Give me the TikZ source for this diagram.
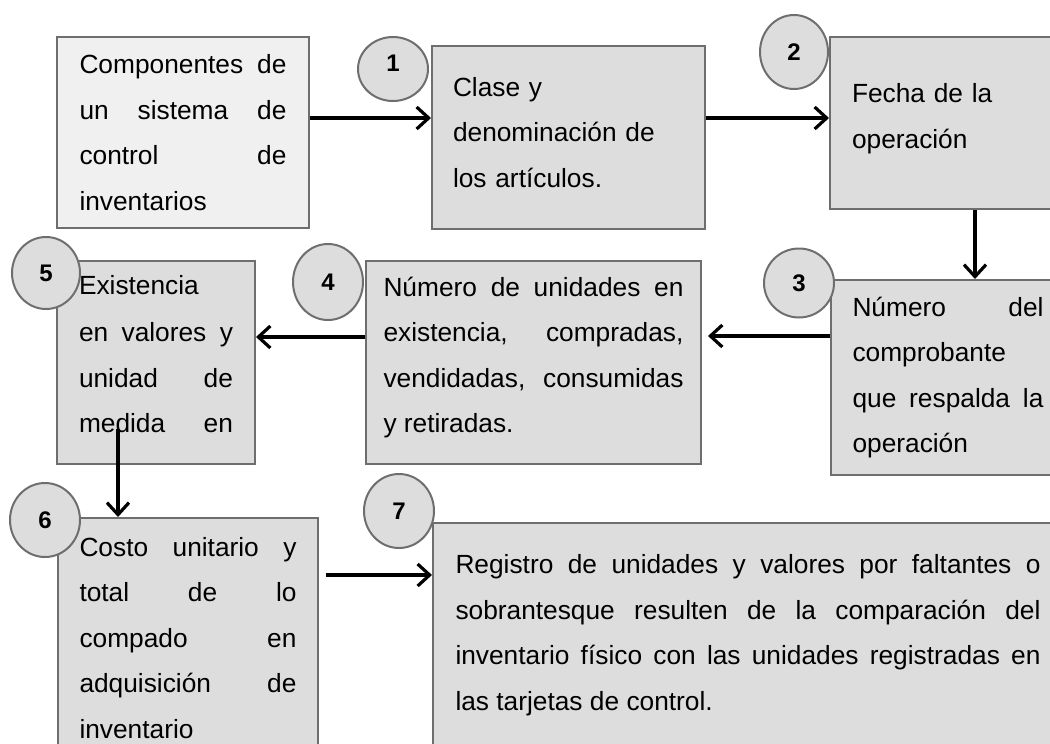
\documentclass[tikz,border=0pt]{standalone}
\usepackage{fontspec}
\setmainfont{Liberation Sans}
\usetikzlibrary{shapes.geometric}
\usetikzlibrary{arrows.meta}
\definecolor{borde}{HTML}{6E6E6E}
\definecolor{relleno}{HTML}{DDDDDD}
\definecolor{claro}{HTML}{F0F0F0}

\begin{document}
\begin{tikzpicture}[x=0.5pt,y=-0.5pt,
	caja/.style={draw=borde, line width=1pt, fill=relleno, anchor=north west, inner ysep=0pt, align=justify, font=\fontsize{13.15}{22.75}\selectfont},
	numero/.style={ellipse, draw=borde, line width=1pt, fill=relleno, inner sep=0pt, minimum width=35pt, minimum height=37pt, font=\fontsize{12}{14}\selectfont\bfseries},
	flecha/.style={line width=1.6pt, -{Straight Barb[length=6pt,width=11pt]}}]
		\path[use as bounding box, clip] (0,0) rectangle (1050,744);
		% First Row
		\node [caja, fill=claro, minimum width=126pt, minimum height=95.5pt, text width=103.5pt] (componentes) at (56,36) {Componentes de\linebreak un sistema de\linebreak control de\linebreak inventarios};
		\node [caja, align=left, minimum width=136.5pt, minimum height=91.5pt, text width=115.5pt, text height=4.6pt] (clase) at (431,45) {Clase y\\denominación de\\los artículos.};
		\node [caja, align=left, minimum width=120pt, minimum height=86pt, text width=98pt, text height=5.1pt] (fecha) at (829,36) {Fecha de la\\operación};
		% Second Row
		\node [caja, minimum width=117pt, minimum height=97.5pt, text width=95.5pt] (comprobante) at (830,279) {Número del\linebreak comprobante\\que respalda la\linebreak operación};
		\node [caja, minimum width=167.5pt, minimum height=101.5pt, text width=150pt, text height=4.8pt] (unidades) at (365,260) {Número de unidades en\linebreak existencia, compradas,\linebreak vendidadas, consumidas\linebreak y retiradas.};
		\node [caja, minimum width=99pt, minimum height=101.5pt, text width=77pt, text height=1pt] (existencia) at (56,260) {Existencia\\[1pt]en valores y\linebreak unidad de\linebreak medida\hfill en};
		% Third Row
		\node [caja, minimum width=130pt, minimum height=120pt, text width=108.5pt] (costo) at (57,517) {Costo unitario y\linebreak total de lo\linebreak compado en\linebreak adquisición de\linebreak inventario};
		\node [caja, minimum width=315pt, minimum height=112pt, text width=292.5pt] (registro) at (432,522) {Registro de unidades y valores por faltantes o\linebreak sobrantesque resulten de la comparación del\linebreak inventario físico con las unidades registradas en\linebreak las tarjetas de control.};

		% Connections
		\draw [flecha] ([yshift=-41pt]componentes.north east) -- ([yshift=-36.5pt]clase.north west); \draw [flecha] ([yshift=-36.5pt]clase.north east) -- ([yshift=-41pt]fecha.north west);
		\draw [flecha] ([xshift=73pt]fecha.south west) -- ([xshift=72.5pt]comprobante.north west); \draw [flecha] ([yshift=-28.5pt]comprobante.north west) -- ([xshift=3pt,yshift=-38pt]unidades.north east);
		\draw [flecha] ([yshift=-38.5pt]unidades.north west) -- ([yshift=-38.5pt]existencia.north east); \draw [flecha] ([xshift=31pt,yshift=18pt]existencia.south west) -- ([xshift=30.5pt]costo.north west);
		\draw [flecha] ([xshift=3.5pt,yshift=-29pt]costo.north east) -- ([yshift=-26.5pt]registro.north west);

		% Numbers
		\node [numero, minimum height=32pt] (n1) at (393,69) {\raisebox{6pt}{1}};
		\node [numero, minimum width=34pt] (n2) at (794,52) {2};
		\node [numero, minimum height=34.5pt] (n3) at (799,283) {3};
		\node [numero, minimum height=38pt] (n4) at (328,282) {4};
		\node [numero, minimum width=34pt, minimum height=36pt] (n5) at (46,273) {5};
		\node [numero] (n6) at (45,520) {6};
		\node [numero] (n7) at (399,511) {7};
\end{tikzpicture}
\end{document}
